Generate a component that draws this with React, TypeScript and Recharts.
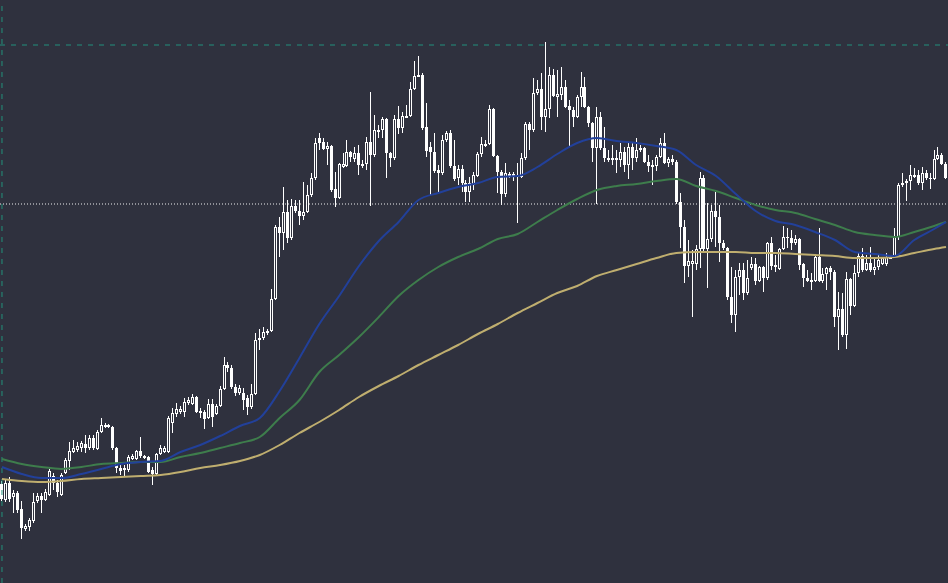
import { ComposedChart, Bar, Line, XAxis, YAxis, ReferenceLine } from 'recharts'

const BG = '#2f313e'

// [open, high, low, close]
const candles: number[][] = [
	[29.9, 30.2, 28.2, 28.4], [28.3, 30.4, 28.1, 30.0], [30.0, 30.6, 28.1, 28.4], [28.6, 29.3, 27.0, 29.0],
	[29.0, 29.2, 27.0, 27.3], [27.4, 28.2, 24.4, 25.5], [25.4, 25.9, 25.2, 25.7], [25.6, 26.5, 25.2, 26.3],
	[26.2, 29.0, 26.0, 28.1], [28.2, 29.0, 28.0, 28.7], [28.7, 29.0, 27.0, 28.3], [28.3, 29.4, 28.2, 29.1],
	[28.8, 31.4, 28.7, 31.2], [30.7, 31.0, 29.3, 30.0], [30.0, 30.3, 28.6, 29.1], [28.8, 31.0, 28.7, 30.8],
	[31.0, 32.5, 30.9, 32.3], [32.2, 34.1, 31.3, 33.2], [33.1, 34.3, 33.0, 33.5], [33.3, 34.1, 33.1, 33.7],
	[33.5, 34.2, 33.1, 34.0], [33.9, 34.8, 33.0, 33.5], [33.5, 34.8, 33.3, 34.5], [34.5, 34.8, 33.3, 33.5],
	[33.4, 35.3, 33.3, 35.1], [35.1, 36.5, 35.0, 35.8], [35.6, 36.0, 35.5, 35.8], [35.8, 35.9, 35.5, 35.6],
	[35.6, 35.7, 33.3, 33.5], [33.5, 33.6, 31.0, 31.5], [31.5, 31.8, 30.8, 31.2], [31.3, 31.8, 30.6, 31.5],
	[31.3, 32.8, 31.1, 32.6], [32.4, 32.9, 32.3, 32.7], [32.4, 33.3, 32.3, 33.2], [33.2, 34.6, 32.5, 32.7],
	[32.5, 32.8, 32.4, 32.7], [32.6, 32.7, 31.0, 31.1], [31.3, 31.6, 29.8, 30.9], [30.9, 33.0, 30.8, 32.9],
	[32.9, 33.8, 32.8, 33.5], [33.1, 33.7, 33.0, 33.5], [33.1, 36.7, 33.0, 36.5], [36.0, 37.5, 35.0, 37.0],
	[36.9, 38.0, 36.6, 37.4], [37.1, 37.7, 36.9, 37.4], [37.1, 38.5, 36.6, 38.1], [38.0, 38.6, 37.8, 38.3],
	[37.9, 38.9, 37.8, 38.6], [38.6, 38.7, 37.0, 37.1], [37.2, 37.5, 36.5, 37.0], [37.1, 37.3, 35.4, 36.4],
	[36.5, 38.4, 36.4, 37.9], [37.9, 38.4, 35.6, 36.6], [36.9, 37.9, 36.8, 37.7], [37.7, 39.7, 37.6, 39.4],
	[39.4, 42.6, 39.3, 41.8], [41.8, 42.1, 41.1, 41.5], [41.5, 41.8, 39.4, 39.6], [39.6, 39.9, 38.7, 39.0],
	[39.0, 39.8, 38.8, 39.5], [39.0, 39.5, 37.3, 38.3], [38.5, 38.8, 36.8, 37.6], [37.6, 39.9, 37.4, 38.9],
	[38.9, 45.0, 38.8, 44.3], [44.3, 45.4, 43.3, 44.5], [44.5, 45.6, 44.3, 45.1], [45.0, 45.4, 44.8, 45.2],
	[45.2, 49.4, 45.1, 48.4], [48.4, 55.8, 48.3, 55.6], [55.6, 56.6, 52.6, 55.0], [55.0, 59.6, 53.3, 57.1],
	[57.1, 58.3, 54.0, 54.5], [54.5, 58.4, 54.3, 57.7], [57.7, 58.3, 57.0, 57.2], [57.2, 58.3, 55.8, 56.7],
	[56.7, 60.1, 56.3, 57.1], [57.1, 59.8, 57.0, 58.8], [58.8, 61.0, 58.6, 60.5], [60.5, 64.5, 60.3, 64.0],
	[64.5, 65.0, 63.3, 64.0], [64.1, 64.5, 63.3, 63.4], [63.4, 64.1, 61.8, 63.7], [63.7, 63.8, 59.1, 59.3],
	[59.4, 61.1, 57.6, 58.5], [58.5, 62.0, 58.4, 61.9], [61.6, 63.0, 61.5, 61.9], [61.7, 64.3, 61.6, 63.1],
	[63.1, 63.2, 62.1, 62.6], [62.4, 63.6, 62.1, 63.0], [63.0, 63.8, 60.8, 61.8],
	[61.8, 62.3, 61.5, 61.9], [61.9, 64.6, 61.3, 64.1], [64.1, 69.1, 57.7, 62.8], [62.8, 66.8, 62.6, 65.3],
	[65.3, 65.8, 64.5, 65.1], [65.3, 66.6, 64.5, 66.4], [66.4, 66.5, 60.5, 63.0], [63.0, 63.1, 61.6, 62.5],
	[62.5, 66.8, 62.3, 66.4], [66.4, 67.7, 64.9, 65.5], [65.5, 67.1, 65.0, 66.7], [66.6, 67.8, 66.5, 66.7],
	[66.7, 70.1, 66.6, 69.4], [69.4, 72.2, 69.3, 70.7], [70.7, 72.7, 70.6, 70.8], [70.8, 71.0, 65.3, 65.5],
	[65.6, 68.0, 62.6, 63.2], [63.6, 64.1, 58.8, 63.1], [63.1, 65.0, 61.0, 61.2], [61.3, 61.8, 59.0, 61.0],
	[61.0, 64.8, 60.8, 64.3], [64.3, 65.2, 64.1, 65.0], [65.0, 65.3, 61.5, 61.7], [61.7, 64.3, 60.2, 60.4],
	[60.5, 61.8, 59.8, 61.4], [61.4, 61.8, 59.1, 60.0], [60.0, 60.3, 58.1, 59.1], [59.1, 60.6, 58.1, 60.0],
	[59.8, 61.1, 59.3, 60.8], [60.7, 63.1, 60.6, 62.9], [62.9, 64.6, 62.6, 63.9], [63.7, 64.3, 63.6, 63.9],
	[63.9, 67.8, 63.8, 67.4], [67.4, 67.5, 62.6, 62.7], [62.7, 62.8, 59.0, 61.1], [61.1, 61.3, 57.8, 58.9],
	[58.9, 62.0, 58.6, 61.0], [60.7, 61.1, 60.5, 60.9], [60.9, 61.1, 60.2, 60.6], [60.8, 62.0, 56.0, 60.6],
	[60.6, 63.0, 60.5, 62.5], [62.5, 66.1, 62.3, 65.9], [65.9, 66.1, 63.3, 65.3], [65.3, 70.5, 65.1, 69.0],
	[69.0, 70.3, 68.8, 69.4], [69.4, 71.0, 65.3, 66.6], [66.6, 74.1, 65.1, 67.4], [67.4, 71.6, 66.5, 70.8],
	[70.8, 71.4, 68.6, 68.7], [68.6, 71.3, 66.6, 68.9], [68.8, 71.6, 68.3, 69.6], [69.6, 70.3, 67.5, 67.6],
	[67.7, 68.3, 63.6, 67.3], [67.3, 67.6, 65.6, 66.6], [66.6, 68.8, 66.5, 68.6], [68.6, 71.1, 67.6, 69.6],
	[69.6, 70.6, 67.5, 67.6], [67.6, 67.7, 65.6, 66.0], [66.0, 66.1, 62.1, 63.5], [63.5, 67.6, 57.9, 66.6],
	[66.6, 67.1, 63.3, 63.5], [63.5, 65.6, 62.1, 62.5], [62.4, 63.3, 62.1, 62.5], [62.4, 63.8, 61.8, 62.5],
	[62.3, 63.3, 61.0, 62.5], [62.3, 64.0, 61.6, 63.1], [63.1, 63.6, 61.1, 61.8], [61.8, 64.0, 60.4, 63.6],
	[63.6, 64.0, 61.3, 62.5], [62.5, 64.5, 62.1, 63.3], [63.3, 63.8, 63.1, 63.5], [63.5, 63.6, 62.0, 62.1],
	[62.1, 62.8, 61.1, 61.7], [61.8, 62.3, 59.8, 61.6], [61.7, 62.8, 61.2, 62.6], [62.6, 64.5, 62.5, 64.0],
	[64.0, 65.0, 61.9, 62.0], [62.0, 62.6, 61.6, 62.4], [62.4, 62.8, 61.8, 62.1], [62.1, 62.3, 57.9, 58.1],
	[58.1, 59.0, 53.5, 55.6], [55.6, 56.3, 50.0, 51.7], [51.7, 54.3, 50.6, 52.2], [51.9, 53.3, 46.6, 52.2],
	[51.9, 53.8, 51.3, 53.4], [53.4, 61.1, 51.5, 60.5], [60.5, 60.8, 53.2, 53.4], [53.4, 58.0, 49.5, 54.4],
	[54.4, 57.8, 54.1, 57.2], [57.2, 59.1, 53.6, 56.6], [56.6, 57.8, 52.1, 54.0], [54.0, 54.3, 53.3, 53.5],
	[53.5, 53.6, 48.3, 48.6], [48.6, 51.6, 46.0, 46.8], [46.8, 51.3, 45.1, 50.6], [50.6, 52.0, 48.8, 51.3],
	[51.3, 52.0, 48.3, 49.0], [49.0, 52.3, 48.8, 50.5], [51.5, 52.6, 51.3, 51.9], [51.9, 52.5, 49.8, 50.2],
	[50.2, 51.7, 50.1, 51.6], [51.6, 51.7, 49.1, 50.5], [50.5, 54.1, 50.3, 54.0], [54.0, 54.6, 51.3, 51.7],
	[51.8, 52.8, 51.1, 51.6], [51.4, 53.5, 51.3, 53.4], [53.4, 55.7, 53.3, 54.6], [54.6, 55.5, 53.5, 54.5],
	[54.5, 55.3, 53.3, 54.0], [54.0, 54.8, 53.8, 54.4], [54.4, 54.5, 51.3, 51.8], [51.9, 52.0, 49.6, 50.5],
	[50.5, 51.3, 50.1, 50.2], [50.3, 51.0, 49.3, 50.1], [50.2, 52.8, 50.1, 52.6], [52.6, 55.5, 50.1, 50.2],
	[50.2, 51.5, 50.0, 50.9], [50.9, 51.6, 49.3, 51.5], [51.5, 51.7, 50.3, 51.1], [51.1, 51.3, 45.6, 46.6],
	[46.6, 49.1, 43.3, 47.4], [47.4, 49.0, 44.6, 44.8], [44.8, 51.1, 43.4, 50.4], [50.4, 50.5, 46.8, 47.7],
	[47.7, 51.8, 47.6, 51.0], [51.0, 53.1, 50.6, 52.7], [52.7, 53.5, 51.1, 51.3], [51.3, 52.8, 51.2, 52.0],
	[52.0, 53.6, 51.1, 51.3], [51.3, 52.6, 50.8, 51.6], [51.6, 52.8, 51.3, 52.3], [51.9, 52.6, 51.8, 52.5],
	[51.9, 53.0, 51.7, 52.6], [52.5, 52.8, 52.4, 52.6], [52.6, 55.5, 52.5, 54.6], [54.6, 60.0, 54.3, 59.8],
	[59.8, 61.0, 59.6, 60.0], [60.0, 60.4, 58.2, 60.2], [60.2, 61.8, 59.3, 60.8], [60.8, 61.5, 60.5, 60.6],
	[60.8, 61.3, 59.8, 60.0], [60.0, 61.6, 59.3, 61.0], [61.0, 61.3, 60.3, 60.5], [60.5, 61.0, 59.4, 60.4],
	[60.4, 63.3, 60.3, 62.4], [62.4, 63.6, 62.3, 62.8], [62.8, 63.0, 61.8, 61.9], [61.9, 62.1, 60.4, 60.5],
]

// moving averages, one value every 5 bars (last one at the final bar)
const maFast = [
	31.6, 30.9, 30.5, 30.5, 30.9, 31.4, 31.9, 32.1, 32.2, 33.1, 33.8, 34.7, 35.7, 36.5, 39.2, 42.5,
	45.9, 48.7, 51.7, 54.2, 56.1, 58.3, 59.0, 59.6, 60.0, 60.6, 60.7, 61.6, 62.9, 64.0, 64.5, 64.2,
	64.0, 63.7, 63.3, 61.8, 60.7, 58.9, 57.2, 56.2, 55.8, 55.1, 54.3, 53.1, 52.9, 52.7, 54.3, 55.4, 56.1,
]
const maMid = [
	32.4, 31.9, 31.6, 31.4, 31.6, 31.9, 32.0, 32.1, 32.1, 32.6, 33.0, 33.5, 34.0, 34.6, 36.5, 38.3,
	41.1, 42.8, 44.6, 46.6, 48.7, 50.3, 51.6, 52.6, 53.4, 54.4, 54.9, 56.1, 57.3, 58.4, 59.3, 59.7,
	59.9, 60.2, 60.4, 59.7, 59.2, 58.5, 57.8, 57.3, 57.0, 56.4, 55.8, 55.1, 54.8, 54.6, 55.1, 55.7, 56.1,
]
const maSlow = [
	30.4, 30.2, 30.1, 30.2, 30.4, 30.5, 30.6, 30.7, 30.8, 31.1, 31.5, 31.8, 32.2, 32.8, 33.8, 35.0,
	36.1, 37.3, 38.6, 39.7, 40.7, 41.8, 42.8, 43.8, 44.9, 45.9, 47.0, 48.0, 49.0, 49.7, 50.7, 51.3,
	51.9, 52.5, 53.0, 53.1, 53.1, 53.1, 53.0, 53.0, 52.9, 52.8, 52.7, 52.5, 52.5, 52.6, 53.0, 53.4, 53.6,
]

const highLine = 73.8
const lastPrice = 57.9

const last = candles.length - 1
const maAt = (arr: number[], i: number) => (i % 5 === 0 ? arr[i / 5] : i === last ? arr[arr.length - 1] : null)

const data = candles.map(([o, h, l, c], i) => ({
	i,
	o,
	h,
	l,
	c,
	range: [l, h],
	fast: maAt(maFast, i),
	mid: maAt(maMid, i),
	slow: maAt(maSlow, i),
}))

function Candle(props: any) {
	const { x, y, width, height, payload } = props
	if (!payload) return null
	const { o, h, l, c } = payload
	const top = Math.min(y, y + height)
	const bot = Math.max(y, y + height)
	const span = h - l || 1
	const py = (v: number) => top + ((h - v) / span) * (bot - top)
	const cx = Math.floor(x + width / 2)
	const wTop = Math.round(top)
	const wBot = Math.max(wTop + 1, Math.round(bot))
	const bTop = Math.round(py(Math.max(o, c)))
	const bBot = Math.max(bTop + 1, Math.round(py(Math.min(o, c))))
	const up = c >= o
	return (
		<g shapeRendering="crispEdges">
			<rect x={cx} y={wTop} width={1} height={wBot - wTop} fill="#ffffff" />
			{up ? (
				<rect
					x={cx - 0.5}
					y={bTop + 0.5}
					width={2}
					height={Math.max(1, bBot - bTop - 1)}
					fill={BG}
					stroke="#ffffff"
					strokeWidth={1}
				/>
			) : (
				<rect x={cx - 1} y={bTop} width={3} height={bBot - bTop} fill="#ffffff" />
			)}
		</g>
	)
}

export default function App() {
	return (
		<div style={{ position: 'absolute', left: 0, top: 0, width: 948, height: 583, background: BG, overflow: 'hidden' }}>
			<ComposedChart width={948} height={583} data={data} margin={{ top: 0, right: 0, bottom: 0, left: 0 }}>
				<XAxis dataKey="i" type="category" hide padding={{ left: 0, right: 0 }} />
				<YAxis hide domain={[20, 78.3]} allowDataOverflow />
				<ReferenceLine x={0} stroke="#22907c" strokeDasharray="5 6" />
				<ReferenceLine y={highLine} stroke="#22907c" strokeDasharray="5 6" />
				<ReferenceLine y={lastPrice} stroke="#f0f0f0" strokeDasharray="1 2" />
				<Line dataKey="slow" stroke="#bfae6f" strokeWidth={2} dot={false} activeDot={false} connectNulls type="monotone" isAnimationActive={false} />
				<Line dataKey="mid" stroke="#3e7d4c" strokeWidth={2} dot={false} activeDot={false} connectNulls type="monotone" isAnimationActive={false} />
				<Line dataKey="fast" stroke="#22409a" strokeWidth={2} dot={false} activeDot={false} connectNulls type="monotone" isAnimationActive={false} />
				<Bar dataKey="range" shape={<Candle />} isAnimationActive={false} />
			</ComposedChart>
		</div>
	)
}
